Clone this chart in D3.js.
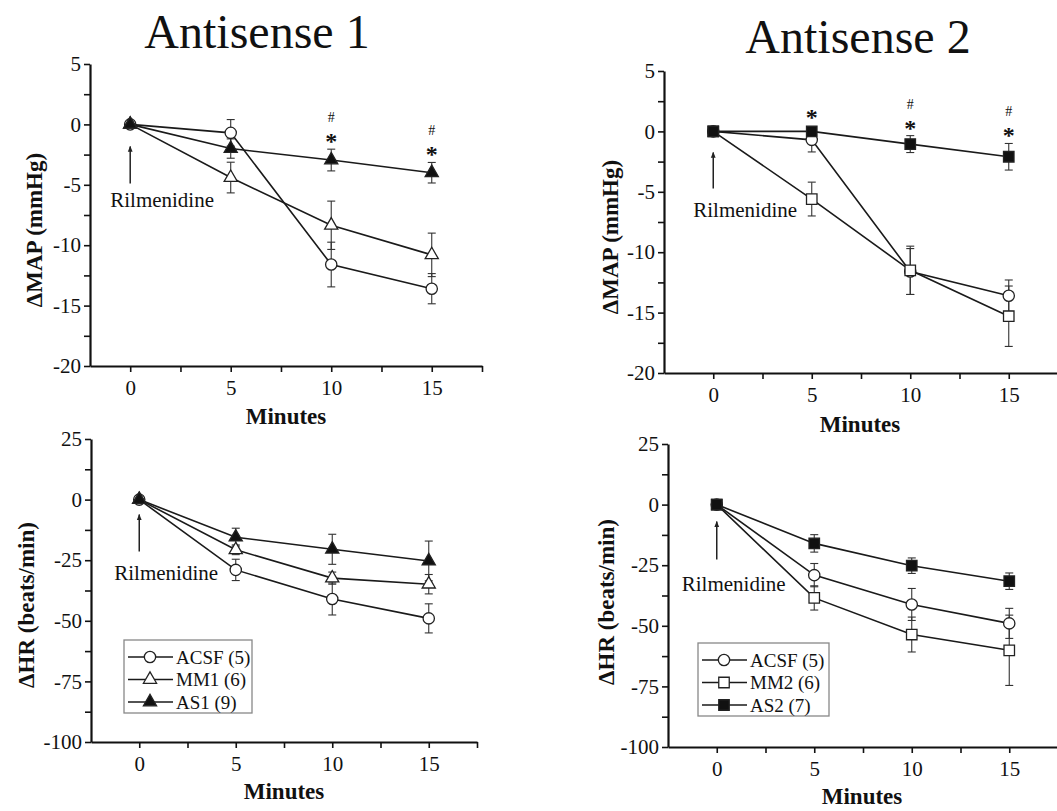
<!DOCTYPE html>
<html>
<head>
<meta charset="utf-8">
<script src="https://cdn.jsdelivr.net/npm/d3@7"></script>
<style>
  body { margin: 0; background: #fff; }
  svg text { font-family: "Liberation Serif", "Times New Roman", "DejaVu Serif", serif; fill: #111; }
</style>
</head>
<body>
<svg id="chart" width="1057" height="811"></svg>
<script>
// ---- data ----
const minutes = [0, 5, 10, 15];

// Antisense 1, change in MAP (mmHg), mean and SEM
const mapAcsf1 = [0, -0.7, -11.6, -13.6];
const mapAcsf1Sem = [0, 1.1, 1.85, 1.25];
const mapMm1 = [0, -4.4, -8.35, -10.8];
const mapMm1Sem = [0, 1.27, 2.0, 1.8];
const mapAs1 = [0, -2.0, -2.95, -4.0];
const mapAs1Sem = [0, 0.8, 0.9, 0.85];

// Antisense 2, change in MAP (mmHg)
const mapAcsf2 = [0, -0.7, -11.6, -13.6];
const mapAcsf2Sem = [0, 1.0, 1.9, 1.3];
const mapMm2 = [0, -5.6, -11.5, -15.3];
const mapMm2Sem = [0, 1.4, 2.0, 2.5];
const mapAs2 = [0, 0, -1.05, -2.1];
const mapAs2Sem = [0, 0.3, 0.7, 1.1];

// Antisense 1, change in HR (beats/min)
const hrAcsf1 = [0, -29, -41, -49];
const hrAcsf1Sem = [0, 4.4, 6.6, 6.0];
const hrMm1 = [0, -20.7, -32.4, -34.9];
const hrMm1Sem = [0, 2.0, 2.5, 4.0];
const hrAs1 = [0, -15.5, -20.5, -25.3];
const hrAs1Sem = [0, 3.7, 6.2, 8.2];

// Antisense 2, change in HR (beats/min)
const hrAcsf2 = [0, -29.1, -41.2, -49];
const hrAcsf2Sem = [0, 4.8, 6.6, 6.2];
const hrMm2 = [0, -38.5, -53.6, -60.1];
const hrMm2Sem = [0, 5.0, 7.2, 14.5];
const hrAs2 = [0, -16, -25.2, -31.6];
const hrAs2Sem = [0, 3.6, 3.2, 3.4];

const legend1 = ["ACSF (5)", "MM1 (6)", "AS1 (9)"];
const legend2 = ["ACSF (5)", "MM2 (6)", "AS2 (7)"];

// significance marks: minute, star (vs ACSF), hash (vs mismatch)
const sig1 = [{ t: 10, star: true, hash: true }, { t: 15, star: true, hash: true }];
const sig2 = [{ t: 5, star: true, hash: false }, { t: 10, star: true, hash: true }, { t: 15, star: true, hash: true }];

// ---- drawing ----
const SERIF = '"Liberation Serif", "Times New Roman", "DejaVu Serif", serif';
const svg = d3.select("#chart");

svg.append("defs").append("marker")
  .attr("id", "arrowhead")
  .attr("viewBox", "0 0 10 10")
  .attr("refX", 9).attr("refY", 5)
  .attr("markerWidth", 4).attr("markerHeight", 6)
  .attr("orient", "auto")
  .append("path").attr("d", "M0,1 L10,5 L0,9 Z").attr("fill", "#222");

const shapes = {
  circle: d3.symbol().type(d3.symbolCircle).size(100),
  triangle: d3.symbol().type(d3.symbolTriangle).size(75),
  square: d3.symbol().type(d3.symbolSquare).size(110)
};

function drawPanel(p) {
  const x = d3.scaleLinear().domain(p.xDomain).range([p.left, p.right]);
  const y = d3.scaleLinear().domain(p.yDomain).range([p.bottom, p.top]);
  const g = svg.append("g");

  // x axis, minor ticks every 2.5 min
  const xAxis = d3.axisBottom(x)
    .tickValues(d3.range(0, 17.6, 2.5))
    .tickSize(6).tickSizeOuter(0).tickPadding(8)
    .tickFormat(d => d % 5 === 0 ? d : "");
  const gx = g.append("g").attr("transform", `translate(0,${p.bottom})`).call(xAxis);

  // y axis, minor ticks halfway
  const yAxis = d3.axisLeft(y)
    .tickValues(d3.range(p.yDomain[0], p.yDomain[1] + 0.01, p.yStep / 2))
    .tickSize(6).tickSizeOuter(0).tickPadding(3)
    .tickFormat(d => d % p.yStep === 0 ? String(d) : "");
  const gy = g.append("g").attr("transform", `translate(${p.left},0)`).call(yAxis);

  [gx, gy].forEach(a => {
    a.attr("font-size", null).attr("font-family", null);
    a.select(".domain").attr("stroke", "#111").attr("stroke-width", 2.2);
    a.selectAll(".tick line").attr("stroke", "#111").attr("stroke-width", 1.6);
    a.selectAll(".tick text").attr("font-size", 21).attr("fill", "#111");
  });

  // axis titles
  g.append("text")
    .attr("x", p.xLabel[0]).attr("y", p.xLabel[1])
    .attr("text-anchor", "middle").attr("font-weight", "bold").attr("font-size", 23)
    .text("Minutes");
  g.append("text")
    .attr("transform", `translate(${p.yLabel[0]},${p.yLabel[1]}) rotate(-90)`)
    .attr("text-anchor", "middle").attr("font-weight", "bold").attr("font-size", 23)
    .text(p.yTitle);

  const line = d3.line().x((d, i) => x(minutes[i])).y(d => y(d));

  // connecting lines
  p.series.forEach(s => {
    g.append("path").datum(s.values)
      .attr("d", line).attr("fill", "none")
      .attr("stroke", "#1a1a1a").attr("stroke-width", 1.6);
  });

  // error bars (mean ± SEM)
  p.series.forEach(s => {
    const eb = g.append("g").attr("stroke", "#333").attr("stroke-width", 1.1);
    s.values.forEach((v, i) => {
      if (!s.sem[i]) return;
      const cx = x(minutes[i]);
      const y1 = y(v + s.sem[i]), y2 = y(v - s.sem[i]);
      eb.append("line").attr("x1", cx).attr("x2", cx).attr("y1", y1).attr("y2", y2);
      eb.append("line").attr("x1", cx - 4).attr("x2", cx + 4).attr("y1", y1).attr("y2", y1);
      eb.append("line").attr("x1", cx - 4).attr("x2", cx + 4).attr("y1", y2).attr("y2", y2);
    });
  });

  // markers
  p.series.forEach(s => {
    g.append("g").selectAll("path").data(s.values).join("path")
      .attr("transform", (d, i) => `translate(${x(minutes[i])},${y(d)})`)
      .attr("d", shapes[s.shape]())
      .attr("fill", s.filled ? "#111" : "#fff")
      .attr("stroke", "#222").attr("stroke-width", 1.3);
  });

  // drug injection arrow
  const x0 = x(0), y0 = y(0);
  g.append("line")
    .attr("x1", x0).attr("x2", x0)
    .attr("y1", y0 + p.arrow[1]).attr("y2", y0 + p.arrow[0])
    .attr("stroke", "#222").attr("stroke-width", 1.5)
    .attr("marker-end", "url(#arrowhead)");
  g.append("text")
    .attr("x", x0 + p.drugText[0]).attr("y", y0 + p.drugText[1])
    .attr("font-size", 21)
    .text("Rilmenidine");

  // significance marks above the antisense group
  if (p.sig) {
    const as = p.series[p.series.length - 1];
    p.sig.forEach(m => {
      const i = minutes.indexOf(m.t);
      const topY = Math.min(y(as.values[i] + as.sem[i]), y(as.values[i]) - 6);
      if (m.star) {
        g.append("text").attr("x", x(m.t)).attr("y", topY)
          .attr("text-anchor", "middle").attr("font-size", 24).attr("font-weight", "bold")
          .text("*");
      }
      if (m.hash) {
        g.append("text").attr("x", x(m.t)).attr("y", topY - 27)
          .attr("text-anchor", "middle").attr("font-size", 14).attr("fill", "#555")
          .text("#");
      }
    });
  }

  // legend
  if (p.legend) {
    const L = p.legend;
    const lg = g.append("g");
    lg.append("rect")
      .attr("x", L.x).attr("y", L.y).attr("width", L.w).attr("height", L.h)
      .attr("fill", "#fff").attr("stroke", "#888").attr("stroke-width", 1.3);
    p.series.forEach((s, k) => {
      const ry = L.y + 17 + k * 22.5;
      lg.append("line")
        .attr("x1", L.x + 4).attr("x2", L.x + 49).attr("y1", ry).attr("y2", ry)
        .attr("stroke", "#1a1a1a").attr("stroke-width", 1.5);
      lg.append("path")
        .attr("transform", `translate(${L.x + 26},${ry})`)
        .attr("d", shapes[s.shape]())
        .attr("fill", s.filled ? "#111" : "#fff")
        .attr("stroke", "#222").attr("stroke-width", 1.3);
      lg.append("text")
        .attr("x", L.x + 52).attr("y", ry + 6.5)
        .attr("font-size", 19)
        .text(L.labels[k]);
    });
  }
}

// titles
svg.append("text").attr("x", 257).attr("y", 48)
  .attr("text-anchor", "middle").attr("font-size", 48).text("Antisense 1");
svg.append("text").attr("x", 858).attr("y", 53)
  .attr("text-anchor", "middle").attr("font-size", 48).text("Antisense 2");

drawPanel({
  left: 90, right: 482, top: 64, bottom: 366,
  xDomain: [-2, 17.5], yDomain: [-20, 5], yStep: 5,
  xLabel: [286, 424], yLabel: [42, 230], yTitle: "ΔMAP (mmHg)",
  arrow: [22, 59], drugText: [-20, 83],
  series: [
    { values: mapAcsf1, sem: mapAcsf1Sem, shape: "circle", filled: false },
    { values: mapMm1, sem: mapMm1Sem, shape: "triangle", filled: false },
    { values: mapAs1, sem: mapAs1Sem, shape: "triangle", filled: true }
  ],
  sig: sig1
});

drawPanel({
  left: 664, right: 1058, top: 71, bottom: 373,
  xDomain: [-2.5, 17.5], yDomain: [-20, 5], yStep: 5,
  xLabel: [860, 432], yLabel: [618, 237], yTitle: "ΔMAP (mmHg)",
  arrow: [21, 57], drugText: [-20, 86],
  series: [
    { values: mapAcsf2, sem: mapAcsf2Sem, shape: "circle", filled: false },
    { values: mapMm2, sem: mapMm2Sem, shape: "square", filled: false },
    { values: mapAs2, sem: mapAs2Sem, shape: "square", filled: true }
  ],
  sig: sig2
});

drawPanel({
  left: 91, right: 477, top: 439, bottom: 742,
  xDomain: [-2.5, 17.5], yDomain: [-100, 25], yStep: 25,
  xLabel: [284, 799], yLabel: [34, 605], yTitle: "ΔHR (beats/min)",
  arrow: [15, 52], drugText: [-25, 80],
  series: [
    { values: hrAcsf1, sem: hrAcsf1Sem, shape: "circle", filled: false },
    { values: hrMm1, sem: hrMm1Sem, shape: "triangle", filled: false },
    { values: hrAs1, sem: hrAs1Sem, shape: "triangle", filled: true }
  ],
  legend: { x: 124, y: 640, w: 128, h: 73, labels: legend1 }
});

drawPanel({
  left: 668, right: 1058, top: 444, bottom: 747,
  xDomain: [-2.5, 17.5], yDomain: [-100, 25], yStep: 25,
  xLabel: [862, 804], yLabel: [614, 602], yTitle: "ΔHR (beats/min)",
  arrow: [17, 55], drugText: [-35, 86],
  series: [
    { values: hrAcsf2, sem: hrAcsf2Sem, shape: "circle", filled: false },
    { values: hrMm2, sem: hrMm2Sem, shape: "square", filled: false },
    { values: hrAs2, sem: hrAs2Sem, shape: "square", filled: true }
  ],
  legend: { x: 698, y: 643, w: 131, h: 73, labels: legend2 }
});

// make sure every label uses the serif face
svg.selectAll("text").style("font-family", SERIF);
</script>
</body>
</html>
